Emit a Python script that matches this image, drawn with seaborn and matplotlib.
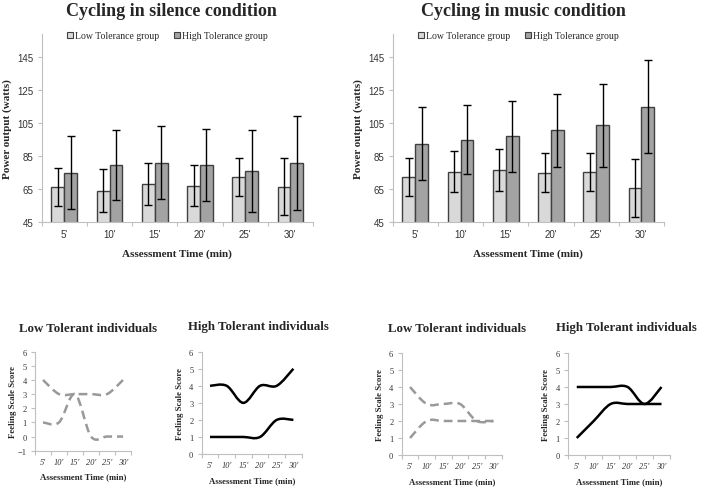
import numpy as np
import pandas as pd
import matplotlib
matplotlib.use("Agg")
import matplotlib.pyplot as plt
from matplotlib.path import Path
from matplotlib.patches import PathPatch, Patch
import seaborn as sns

# ---- data ----
times = ["5'", "10'", "15'", "20'", "25'", "30'"]
groups = ["Low Tolerance group", "High Tolerance group"]

silence_low = [66, 64, 68, 67, 72.5, 66.5]
silence_low_sd = [11.5, 13, 12.5, 12.5, 11.5, 17.5]
silence_high = [75, 79.5, 81, 79.5, 76, 81]
silence_high_sd = [22, 21, 22, 22, 25, 28.5]

music_low = [72.5, 75.5, 76.5, 75, 75.5, 65.5]
music_low_sd = [11.5, 12.5, 12.5, 12, 11.5, 17.5]
music_high = [92.5, 95, 97, 100.5, 103.5, 115]
music_high_sd = [22, 21, 21.5, 22, 25, 28]

# feeling scale scores
sil_lowtol_a = [4, 3, 3, 3, 3, 4]
sil_lowtol_b = [1, 1, 3, 0, 0, 0]
sil_hightol_a = [4, 4, 3, 4, 4, 5]
sil_hightol_b = [1, 1, 1, 1, 2, 2]
mus_lowtol_a = [4, 3, 3, 3, 2, 2]
mus_lowtol_b = [1, 2, 2, 2, 2, 2]
mus_hightol_a = [4, 4, 4, 4, 3, 4]
mus_hightol_b = [1, 2, 3, 3, 3, 3]

sns.set_theme(style="ticks")
plt.rcParams["font.family"] = ["Liberation Serif", "DejaVu Serif"]

SPINE = "#bfbfbf"
LOW_C = "#d9d9d9"
HIGH_C = "#a3a3a3"
EDGE = "#404040"

FIG_W = 702
fig = plt.figure(figsize=(7.02, 4.89), dpi=100)


def style_axes(ax):
    for s in ["top", "right"]:
        ax.spines[s].set_visible(False)
    for s in ["left", "bottom"]:
        ax.spines[s].set_color(SPINE)
        ax.spines[s].set_linewidth(0.8)
    ax.set_xlim(-0.5, 5.5)
    ax.set_xticks(range(len(times)))
    ax.set_xticks(np.arange(-0.5, 6, 1), minor=True)
    ax.tick_params(axis="x", which="major", length=0, pad=5)
    ax.tick_params(axis="x", which="minor", length=3, color=SPINE, width=0.8)
    ax.tick_params(axis="y", length=3, color=SPINE, width=0.8, pad=3)


def bar_panel(rect, low, low_sd, high, high_sd, title, title_x):
    ax = fig.add_axes(rect)
    df = pd.DataFrame({
        "time": times * 2,
        "group": [groups[0]] * 6 + [groups[1]] * 6,
        "power": low + high,
    })
    sns.barplot(data=df, x="time", y="power", hue="group", order=times,
                hue_order=groups, palette=[LOW_C, HIGH_C], width=0.57,
                errorbar=None, edgecolor=EDGE, linewidth=1.0, legend=False, ax=ax)
    for cont, vals, sds in zip(ax.containers, [low, high], [low_sd, high_sd]):
        xs = [b.get_x() + b.get_width() / 2 for b in cont]
        ax.errorbar(xs, vals, yerr=sds, fmt="none", ecolor="black",
                    elinewidth=1.0, capsize=3, capthick=1.0)
    style_axes(ax)
    ax.set_ylim(45, 159)
    ax.set_yticks([45, 65, 85, 105, 125, 145])
    for lab in ax.get_yticklabels() + ax.get_xticklabels():
        lab.set_fontfamily("Liberation Sans")
        lab.set_fontsize(7)
        lab.set_color("#333333")
    ax.set_xlabel("Assessment Time (min)", fontsize=8, fontweight="bold", labelpad=7)
    ax.set_ylabel("Power output (watts)", fontsize=8, fontweight="bold")
    ax.yaxis.set_label_coords(-29.5 / (rect[2] * FIG_W), 0.5)
    handles = [Patch(facecolor=LOW_C, edgecolor=EDGE, linewidth=0.8),
               Patch(facecolor=HIGH_C, edgecolor=EDGE, linewidth=0.8)]
    ax.legend(handles, groups, loc="center", bbox_to_anchor=(0.463, 0.99), ncol=2,
              frameon=False, fontsize=7, handlelength=0.6, handleheight=0.6,
              handletextpad=0.2, columnspacing=1.5)
    fig.text(title_x, 0.977, title, ha="center", va="center", fontsize=13, fontweight="bold")
    return ax


def smooth_curve(ax, ys, **kw):
    pts = np.column_stack([np.arange(len(ys)), np.asarray(ys, float)])
    verts = [tuple(pts[0])]
    codes = [Path.MOVETO]
    n = len(pts)
    for i in range(n - 1):
        p0 = pts[i - 1] if i > 0 else pts[i]
        p1, p2 = pts[i], pts[i + 1]
        p3 = pts[i + 2] if i + 2 < n else pts[i + 1]
        c1 = p1 + (p2 - p0) / 6.0
        c2 = p2 - (p3 - p1) / 6.0
        verts += [tuple(c1), tuple(c2), tuple(p2)]
        codes += [Path.CURVE4] * 3
    ax.add_patch(PathPatch(Path(verts, codes), fill=False, **kw))


def line_panel(rect, a, b, ylim, dashed, title, title_x, title_y):
    ax = fig.add_axes(rect)
    if dashed:
        kw = dict(edgecolor="#999999", linewidth=1.8, linestyle=(0, (3.5, 2)))
    else:
        kw = dict(edgecolor="black", linewidth=1.8)
    smooth_curve(ax, a, **kw)
    smooth_curve(ax, b, **kw)
    style_axes(ax)
    ax.set_ylim(*ylim)
    ax.set_yticks(range(ylim[0], ylim[1] + 1))
    ax.set_xticklabels(times)
    for lab in ax.get_yticklabels() + ax.get_xticklabels():
        lab.set_fontsize(6)
        lab.set_color("#333333")
    for lab in ax.get_xticklabels():
        lab.set_fontstyle("italic")
    ax.set_xlabel("Assessment Time (min)", fontsize=6.3, fontweight="bold", labelpad=5)
    ax.set_ylabel("Feeling Scale Score", fontsize=6.3, fontweight="bold")
    ax.yaxis.set_label_coords(-18 / (rect[2] * FIG_W), 0.5)
    fig.text(title_x, title_y, title, ha="center", va="center", fontsize=9.3, fontweight="bold")
    return ax


bar_panel([0.0594, 0.544, 0.3865, 0.3845], silence_low, silence_low_sd,
          silence_high, silence_high_sd, "Cycling in silence condition", 0.2436)
bar_panel([0.5594, 0.544, 0.3865, 0.3845], music_low, music_low_sd,
          music_high, music_high_sd, "Cycling in music condition", 0.745)

line_panel([0.0499, 0.0763, 0.1368, 0.2025], sil_lowtol_a, sil_lowtol_b, (-1, 6), True,
           "Low Tolerant individuals", 0.126, 0.327)
line_panel([0.2873, 0.0695, 0.1425, 0.2092], sil_hightol_a, sil_hightol_b, (0, 6), False,
           "High Tolerant individuals", 0.368, 0.331)
line_panel([0.5722, 0.0675, 0.1425, 0.2086], mus_lowtol_a, mus_lowtol_b, (0, 6), True,
           "Low Tolerant individuals", 0.651, 0.327)
line_panel([0.8095, 0.0675, 0.1449, 0.2086], mus_hightol_a, mus_hightol_b, (0, 6), False,
           "High Tolerant individuals", 0.892, 0.329)

fig.savefig("out.png", dpi=100)
